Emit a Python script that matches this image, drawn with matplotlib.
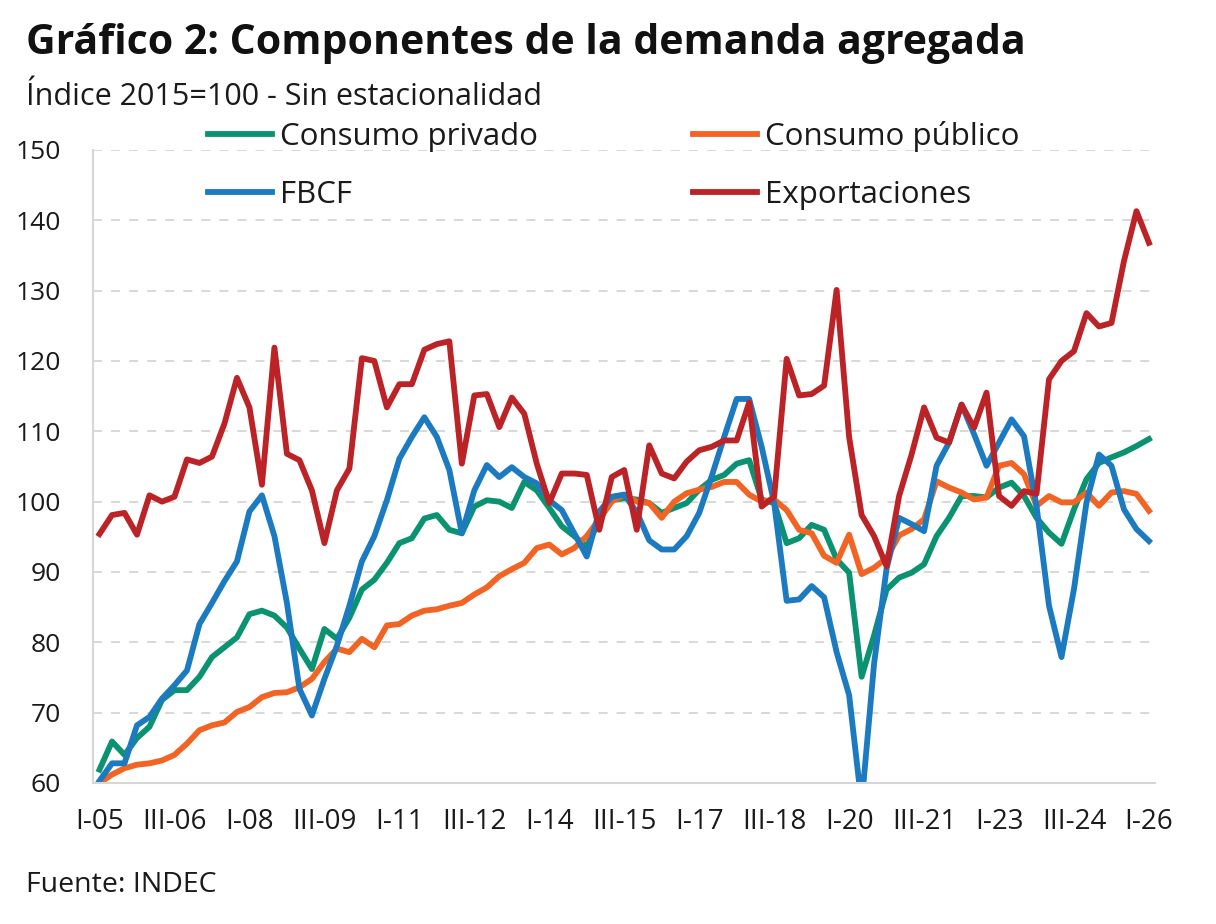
import numpy as np
import matplotlib
matplotlib.use('Agg')
import matplotlib.pyplot as plt
from matplotlib import rcParams

rcParams['font.family'] = ['Open Sans', 'DejaVu Sans']
rcParams['text.color'] = '#1a1a1a'

# Quarterly index, I-05 .. I-26 (2015=100, seasonally adjusted)
quarters = [f'{q}-{y:02d}' for y in range(5, 27) for q in ['I', 'II', 'III', 'IV']][:85]

consumo_privado = [
    61.9, 65.9, 64.0, 66.4, 68.0, 71.8, 73.2, 73.2, 75.1, 77.9,
    79.3, 80.7, 84.0, 84.5, 83.8, 82.1, 79.1, 76.2, 81.9, 80.5,
    83.5, 87.5, 88.9, 91.3, 94.1, 94.8, 97.6, 98.1, 96.0, 95.5,
    99.3, 100.2, 100.0, 99.1, 102.8, 101.6, 99.1, 96.5, 95.1, 93.6,
    97.4, 100.2, 100.5, 100.3, 99.8, 98.4, 99.1, 99.8, 101.7, 103.1,
    103.8, 105.4, 105.9, 100.3, 99.8, 94.1, 94.8, 96.7, 96.0, 91.8,
    89.9, 75.1, 81.0, 87.5, 89.2, 89.9, 91.1, 95.1, 97.7, 100.8,
    100.8, 100.6, 102.0, 102.7, 100.8, 97.7, 95.6, 94.0, 98.9, 103.2,
    105.5, 106.3, 107.0, 107.9, 108.9]

consumo_publico = [
    60.0, 61.2, 62.1, 62.6, 62.8, 63.2, 64.0, 65.6, 67.5, 68.2,
    68.6, 70.1, 70.8, 72.2, 72.8, 72.9, 73.6, 74.8, 77.2, 79.1,
    78.6, 80.5, 79.3, 82.4, 82.6, 83.8, 84.5, 84.7, 85.2, 85.6,
    86.8, 87.8, 89.4, 90.4, 91.3, 93.4, 93.9, 92.5, 93.4, 95.1,
    97.5, 100.0, 101.0, 100.0, 99.8, 97.7, 100.0, 101.2, 101.7, 102.1,
    102.8, 102.8, 101.0, 100.0, 100.3, 98.8, 96.0, 95.5, 92.3, 91.3,
    95.3, 89.7, 90.6, 92.0, 95.2, 96.1, 97.5, 102.9, 102.0, 101.3,
    100.3, 100.6, 105.1, 105.5, 103.9, 99.4, 100.8, 99.9, 99.9, 101.3,
    99.4, 101.3, 101.5, 101.1, 98.7]

fbcf = [
    60.3, 62.8, 62.8, 68.2, 69.4, 72.0, 73.9, 76.0, 82.6, 85.6,
    88.7, 91.5, 98.6, 100.9, 95.1, 85.6, 73.4, 69.6, 74.8, 79.5,
    85.2, 91.5, 95.1, 100.2, 106.1, 109.2, 112.0, 109.2, 104.5, 95.5,
    101.6, 105.2, 103.5, 104.9, 103.5, 102.6, 100.2, 98.8, 95.5, 92.2,
    98.6, 100.7, 101.0, 98.5, 94.5, 93.2, 93.2, 95.1, 98.4, 103.6,
    109.2, 114.6, 114.6, 107.8, 99.8, 85.9, 86.1, 88.0, 86.4, 78.6,
    72.5, 57.0, 77.0, 90.5, 97.7, 96.8, 95.8, 105.1, 108.4, 113.8,
    109.6, 105.1, 108.4, 111.7, 109.3, 99.4, 85.2, 77.9, 87.6, 99.9,
    106.7, 105.1, 98.9, 96.1, 94.4]

exportaciones = [
    95.4, 98.1, 98.4, 95.3, 100.9, 100.0, 100.7, 106.0, 105.5, 106.4,
    111.1, 117.6, 113.4, 102.4, 121.9, 106.8, 105.9, 101.6, 94.1, 101.6,
    104.7, 120.4, 120.0, 113.4, 116.7, 116.7, 121.6, 122.4, 122.8, 105.4,
    115.1, 115.3, 110.6, 114.8, 112.5, 105.4, 99.8, 104.0, 104.0, 103.8,
    96.0, 103.5, 104.5, 96.0, 108.0, 104.0, 103.3, 105.7, 107.3, 107.8,
    108.7, 108.7, 114.1, 99.3, 100.7, 120.3, 115.1, 115.3, 116.5, 130.1,
    109.2, 98.1, 95.1, 90.8, 100.8, 106.7, 113.4, 109.1, 108.4, 113.8,
    110.5, 115.5, 100.8, 99.4, 101.5, 101.1, 117.4, 120.0, 121.4, 126.8,
    124.9, 125.4, 134.2, 141.3, 136.8]

series = [
    ('Consumo privado', consumo_privado, '#0b9371'),
    ('Consumo público', consumo_publico, '#f26423'),
    ('FBCF', fbcf, '#1c7bc0'),
    ('Exportaciones', exportaciones, '#bb2327'),
]

x = np.arange(len(quarters))

fig = plt.figure(figsize=(12.16, 9.24), dpi=100)
ax = fig.add_axes([0.0765, 0.1526, 0.8735, 0.6851])

lines = {}
for name, vals, col in series:
    lines[name], = ax.plot(x, vals, color=col, lw=4.2, label=name)

ax.set_xlim(-0.52, 84.5)
ax.set_ylim(60, 150)
ax.set_yticks(np.arange(60, 151, 10))
ax.set_xticks(x[::6])
ax.set_xticklabels(quarters[::6])
ax.tick_params(axis='both', length=0, colors='#1a1a1a')
ax.tick_params(axis='y', pad=23, labelsize=19)
ax.tick_params(axis='x', pad=18, labelsize=20)

ax.grid(axis='y', color='#d6d6d6', lw=1.3, ls=(0, (5, 5)))
ax.set_axisbelow(True)
for s in ['top', 'right']:
    ax.spines[s].set_visible(False)
for s in ['left', 'bottom']:
    ax.spines[s].set_color('#d6d6d6')
    ax.spines[s].set_linewidth(1.5)

# legend rows: privado / publico, then FBCF / exportaciones
order = ['Consumo privado', 'FBCF', 'Consumo público', 'Exportaciones']
ax.legend([lines[n] for n in order], order,
          loc='center left', bbox_to_anchor=(0.1083, 0.976), ncol=2,
          frameon=False, fontsize=22.5, handlelength=2.05,
          handletextpad=0.26, columnspacing=4.96, labelspacing=0.89,
          borderpad=0, borderaxespad=0)

fig.text(0.021, 0.9525, 'Gráfico 2: Componentes de la demanda agregada',
         fontsize=29.5, fontweight='bold', va='center', color='#111111')
fig.text(0.021, 0.8955, 'Índice 2015=100 - Sin estacionalidad',
         fontsize=22, va='center')
fig.text(0.021, 0.042, 'Fuente: INDEC', fontsize=20.5, va='center')

plt.savefig('out.png', dpi=100)
